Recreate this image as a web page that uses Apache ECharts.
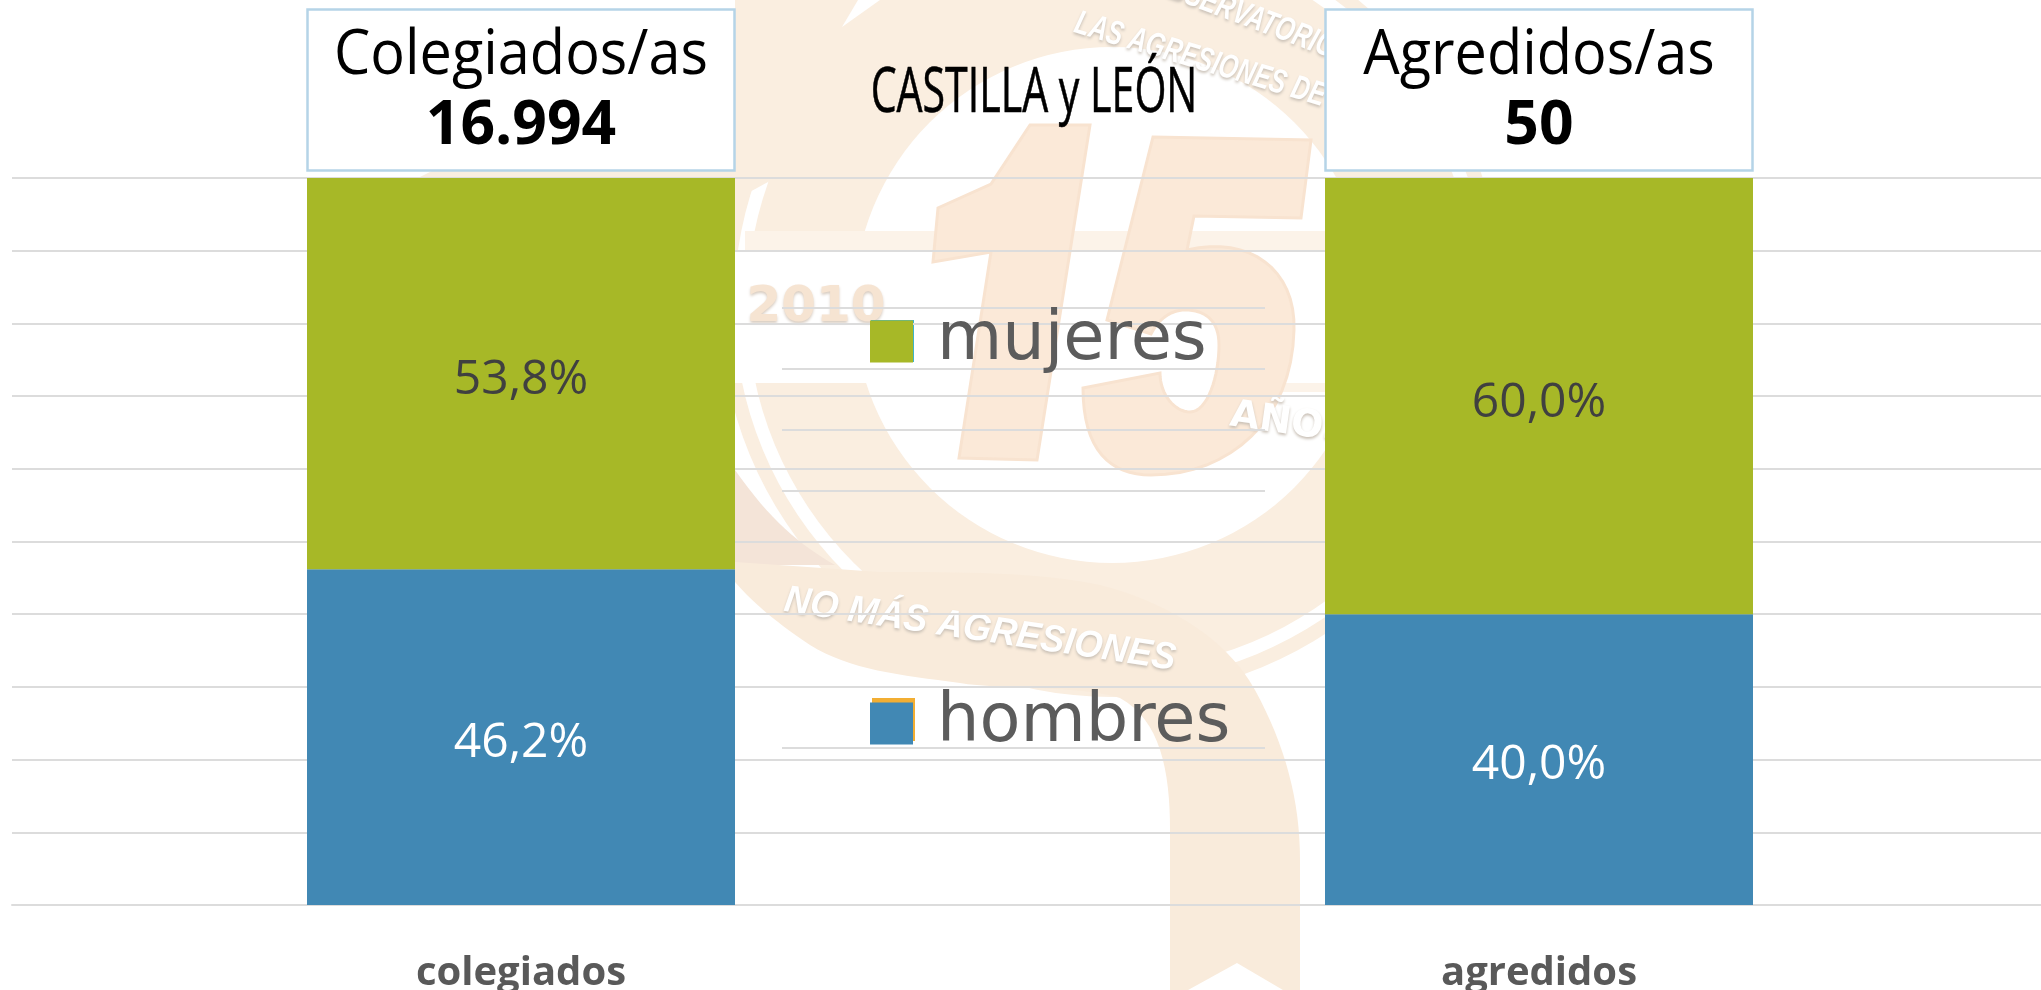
<!DOCTYPE html>
<html><head><meta charset="utf-8">
<style>html,body{margin:0;padding:0;background:#fff}#c{width:2041px;height:990px}</style>
<script src="https://cdn.jsdelivr.net/npm/echarts@6/dist/echarts.min.js"></script>
</head><body><div id="c"></div>
<script>
const categories = ['colegiados', 'agredidos'];
const hombres = [46.2, 40.0];
const mujeres = [53.8, 60.0];
const headerTitles = ['Colegiados/as', 'Agredidos/as'];
const headerTotals = ['16.994', '50'];
const regionTitle = 'CASTILLA y LEÓN';

const GREEN = '#a7b827', BLUE = '#4188b4', GRID = '#dcdcdc', TAN = '#faeee0', TAN2 = '#fbe9d8', EDGE = '#f8e3d0';
const fmt = p => p.value.toFixed(1).replace('.', ',') + '%';

// flatten a small "M/L/C/Z" outline for the decorative background medal into polygon points
function outline(d) {
  const t = d.trim().split(/\s+|(?=[MLCZ])|(?<=[MLCZ])/).filter(Boolean), pts = [];
  let i = 0, cmd = '';
  const num = () => parseFloat(t[i++]);
  while (i < t.length) {
    if (/[MLCZ]/.test(t[i])) { cmd = t[i++]; if (cmd === 'Z') continue; }
    if (cmd === 'C') {
      const p0 = pts[pts.length - 1], x1 = num(), y1 = num(), x2 = num(), y2 = num(), x3 = num(), y3 = num();
      for (let k = 1; k <= 16; k++) {
        const s = k / 16, u = 1 - s;
        pts.push([u*u*u*p0[0] + 3*u*u*s*x1 + 3*u*s*s*x2 + s*s*s*x3, u*u*u*p0[1] + 3*u*u*s*y1 + 3*u*s*s*y2 + s*s*s*y3]);
      }
    } else { pts.push([num(), num()]); }
  }
  return pts;
}

const shadow = {textShadowColor:'#c9c0b6', textShadowBlur:3, textShadowOffsetY:2};
const wm = [
  {type:'ring', shape:{cx:1112,cy:305,r:392,r0:258}, style:{fill:TAN}},
  {type:'ring', shape:{cx:1112,cy:305,r:378,r0:365}, style:{fill:'#fff'}},
  {type:'polygon', shape:{points:[[735,0],[1010,0],[900,100],[790,170],[735,200]]}, style:{fill:TAN}},
  {type:'polygon', shape:{points:[[842,27],[880,0],[858,0]]}, style:{fill:'#fff'}},
  {type:'polygon', shape:{points:[[418,178],[432,171],[735,171],[735,178]]}, style:{fill:TAN}},
  {type:'rect', shape:{x:735,y:250,width:590,height:133}, style:{fill:'#fff'}},
  {type:'rect', shape:{x:745,y:231,width:580,height:19}, style:{fill:'#fcf3e9'}},
  {type:'rect', shape:{x:1275,y:383,width:50,height:9}, style:{fill:'#fcf3e9'}},
  {type:'polygon', shape:{points:outline('M735 470 C770 520 800 545 835 565 L735 565 Z')}, style:{fill:'#f4e4d8'}},
  {type:'polygon', shape:{points:outline('M735 562 L880 572 C960 572 1040 572 1100 585 C1160 600 1225 635 1255 690 C1285 745 1300 800 1300 860 L1300 1000 L1237 963 L1170 1000 L1170 830 C1170 770 1160 720 1120 698 C1080 685 1000 690 960 683 C900 675 850 670 810 645 C780 625 755 605 735 582 Z')}, style:{fill:'#f9ebdb'}},
  {type:'polygon', shape:{points:[[1030,125],[1090,125],[1037,460],[959,458],[991,252],[933,262],[938,208],[991,184]]}, style:{fill:TAN2, stroke:EDGE, lineWidth:3}},
  {type:'polygon', shape:{points:outline('M1153 137 L1311 140 L1301 218 L1194 216 L1187 250 C1250 235 1296 270 1294 330 C1292 420 1230 475 1151 475 C1110 475 1083 450 1083 388 L1160 373 C1160 395 1175 412 1190 412 C1208 412 1219 375 1219 345 C1219 320 1205 310 1185 310 C1170 310 1158 320 1151 334 L1107 320 Z')}, style:{fill:TAN2, stroke:EDGE, lineWidth:3}},
  {type:'text', x:816, y:308, style:{text:'2010', textAlign:'center', textVerticalAlign:'middle', fontFamily:'DejaVu Sans', fontWeight:'bold', fontSize:50, fill:'#f6e4d2', textShadowColor:'#d8ccc0', textShadowBlur:3, textShadowOffsetY:2}},
  {type:'text', x:1290, y:424, rotation:-0.14, style:Object.assign({text:'AÑOS', textAlign:'center', textVerticalAlign:'middle', fontFamily:'DejaVu Sans', fontWeight:'bold', fontSize:38, fill:'#fff'}, shadow)},
  {type:'text', x:1200, y:60, rotation:-0.29, scaleX:0.72, style:Object.assign({text:'LAS AGRESIONES DE', textAlign:'center', textVerticalAlign:'middle', fontFamily:'Liberation Sans', fontStyle:'italic', fontWeight:'bold', fontSize:34, fill:'#fff'}, shadow)},
  {type:'text', x:1243, y:15, rotation:-0.36, scaleX:0.72, style:Object.assign({text:'OBSERVATORIO', textAlign:'center', textVerticalAlign:'middle', fontFamily:'Liberation Sans', fontStyle:'italic', fontWeight:'bold', fontSize:34, fill:'#fff'}, shadow)},
  {type:'text', x:980, y:630, rotation:-0.15, scaleX:0.95, style:Object.assign({text:'NO MÁS AGRESIONES', textAlign:'center', textVerticalAlign:'middle', fontFamily:'Liberation Sans', fontStyle:'italic', fontWeight:'bold', fontSize:38, fill:'#fff'}, shadow)}
].map(e => Object.assign(e, {z:-10, silent:true}));

const legendRules = [308, 369, 430, 491, 687, 748].map(y => ({
  type:'line', z:-5, silent:true, shape:{x1:782, y1:y, x2:1265, y2:y}, style:{stroke:GRID, lineWidth:2}
}));

const swatchEdges = [
  {type:'rect', z:-4, shape:{x:871,y:320,width:43,height:42}, style:{fill:'#3fb4c6'}},
  {type:'rect', z:-4, shape:{x:872,y:698,width:43,height:43}, style:{fill:'#f2ae33'}}
];

function box(cx, i) {
  const x0 = cx - 213.5;
  return [
    {type:'rect', z:20, shape:{x:x0, y:9.5, width:427, height:161}, style:{fill:'#fff', stroke:'#b5d4e7', lineWidth:2.5}},
    {type:'text', z:21, x:cx, y:56, scaleX:0.93, style:{text:headerTitles[i], textAlign:'center', textVerticalAlign:'middle', fontFamily:'Open Sans', fontSize:62, fill:'#000'}},
    {type:'text', z:21, x:cx, y:127, scaleX:1.01, style:{text:headerTotals[i], textAlign:'center', textVerticalAlign:'middle', fontFamily:'Open Sans', fontWeight:'bold', fontSize:60, fill:'#000'}}
  ];
}

const chart = echarts.init(document.getElementById('c'), null, {renderer:'canvas'});
chart.setOption({
  animation:false,
  backgroundColor:'#fff',
  grid:{left:12, top:178, width:2036, height:727, containLabel:false, outerBoundsMode:'none'},
  xAxis:{type:'category', data:categories,
    axisLine:{show:true, lineStyle:{color:GRID, width:2}}, axisTick:{show:false},
    axisLabel:{margin:49, fontFamily:'Open Sans', fontWeight:'bold', fontSize:40, color:'#595959'}},
  yAxis:{type:'value', min:0, max:100, interval:10, axisLine:{show:false}, axisTick:{show:false}, axisLabel:{show:false},
    splitLine:{show:true, lineStyle:{color:GRID, width:2}}},
  legend:{orient:'vertical', left:870, top:308, padding:0, itemWidth:43, itemHeight:42, itemGap:315,
    icon:'rect', data:['mujeres','hombres'],
    textStyle:{fontFamily:'DejaVu Sans', fontSize:67, lineHeight:42, height:42, color:'#5c5c5c', padding:[0,0,0,19]}},
  series:[
    {name:'hombres', type:'bar', stack:'t', barWidth:428, data:hombres, itemStyle:{color:BLUE},
      label:{show:true, position:'inside', offset:[0,6], formatter:fmt, fontFamily:'Open Sans', fontSize:48, color:'#fff'}},
    {name:'mujeres', type:'bar', stack:'t', barWidth:428, data:mujeres, itemStyle:{color:GREEN},
      label:{show:true, position:'inside', offset:[0,7], formatter:fmt, fontFamily:'Open Sans', fontSize:48, color:'#404040'}}
  ],
  graphic:{elements:[
    ...wm, ...legendRules, ...swatchEdges,
    ...box(521, 0), ...box(1539, 1),
    {type:'text', z:21, x:1034, y:94, scaleX:0.663, style:{text:regionTitle, textAlign:'center', textVerticalAlign:'middle', fontFamily:'Open Sans', fontSize:62, fill:'#000', stroke:'#000', lineWidth:0.6}}
  ]}
});
</script></body></html>
